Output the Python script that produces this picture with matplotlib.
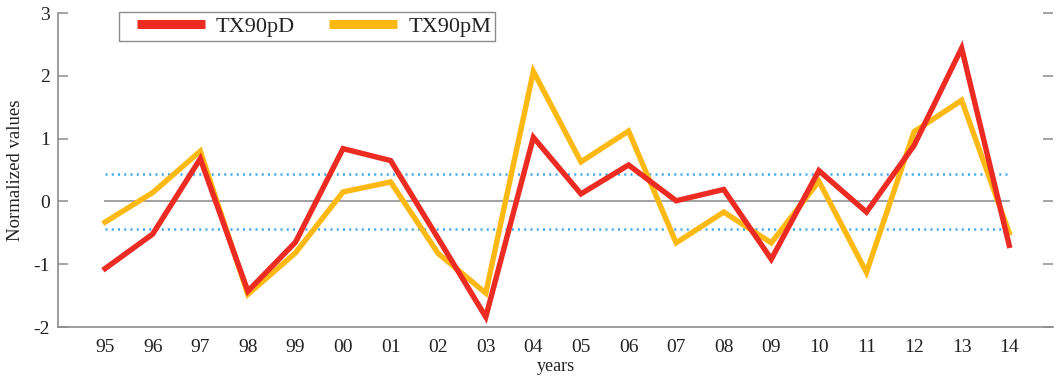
import matplotlib
matplotlib.use("Agg")
import matplotlib.pyplot as plt
from matplotlib.patches import Rectangle

years = ["95", "96", "97", "98", "99", "00", "01", "02", "03", "04",
         "05", "06", "07", "08", "09", "10", "11", "12", "13", "14"]
tx90pD = [-1.07, -0.52, 0.68, -1.43, -0.65, 0.84, 0.65, -0.59, -1.84, 1.02,
          0.12, 0.58, 0.01, 0.19, -0.92, 0.49, -0.17, 0.89, 2.44, -0.70]
tx90pM = [-0.33, 0.14, 0.80, -1.48, -0.82, 0.15, 0.31, -0.83, -1.46, 2.07,
          0.63, 1.12, -0.66, -0.17, -0.66, 0.32, -1.13, 1.11, 1.61, -0.50]
band = 0.435
yticks = [-2, -1, 0, 1, 2, 3]

plt.rcParams["font.family"] = ["Liberation Serif", "DejaVu Serif"]

W, H = 1061, 376
fig = plt.figure(figsize=(W / 100, H / 100), dpi=100)
ax = fig.add_axes([58 / W, 1 - 327 / H, (1053 - 58) / W, (327 - 13) / H])

x = list(range(len(years)))

ax.plot([x[0], x[-1]], [0, 0], color="#9a9a9a", lw=1.3, zorder=1)
for b in (band, -band):
    ax.plot([x[0], x[-1]], [b, b], color="#3fa9f0", lw=1.8,
            linestyle=(0, (0.8, 1.7)), zorder=1)

ax.plot(x, tx90pM, color="#fdb913", lw=3.9, label="TX90pM", zorder=2,
        solid_joinstyle="miter")
ax.plot(x, tx90pD, color="#ec2b23", lw=3.9, label="TX90pD", zorder=3,
        solid_joinstyle="miter")

ax.set_xlim(-0.99, 19.92)
ax.set_ylim(-2, 3)
ax.set_xticks(x)
ax.set_xticklabels(years)
ax.set_yticks(yticks)
ax.set_yticklabels([str(v) for v in yticks])

for s in ("top", "right"):
    ax.spines[s].set_visible(False)
for s in ("left", "bottom"):
    ax.spines[s].set_color("#8c8c8c")
    ax.spines[s].set_linewidth(1.2)

ax.tick_params(axis="x", length=0, labelsize=14, pad=9, colors="#222222")
ax.tick_params(axis="y", direction="in", length=7, width=1.1, color="#8c8c8c",
               labelsize=14, labelcolor="#222222", right=True, pad=6)
ax.tick_params(axis="y", which="major", labelright=False)

ax.set_xlabel("years", fontsize=13, labelpad=1, color="#222222")
ax.set_ylabel("Normalized values", fontsize=13.5, color="#222222")
ax.yaxis.set_label_coords(-0.034, 0.5)

# legend: entries without frame, box drawn separately
handles, labels = ax.get_legend_handles_labels()
order = [1, 0]
leg = fig.legend([handles[i] for i in order], [labels[i] for i in order],
                 loc="center left", bbox_to_anchor=(137 / W, 1 - 26.5 / H),
                 bbox_transform=fig.transFigure, ncol=2, fontsize=16,
                 frameon=False, handlelength=3.05, columnspacing=1.55,
                 handletextpad=0.5, borderpad=0.0, borderaxespad=0.0)
for line in leg.get_lines():
    line.set_linewidth(6.5)
    line.set_solid_capstyle("butt")
for t in leg.get_texts():
    t.set_color("#222222")
fig.patches.append(Rectangle((119 / W, 1 - 41 / H), (495 - 119) / W, 29 / H,
                             transform=fig.transFigure, fill=False,
                             edgecolor="#8c8c8c", linewidth=1.0))

fig.savefig("out.png", dpi=100)
